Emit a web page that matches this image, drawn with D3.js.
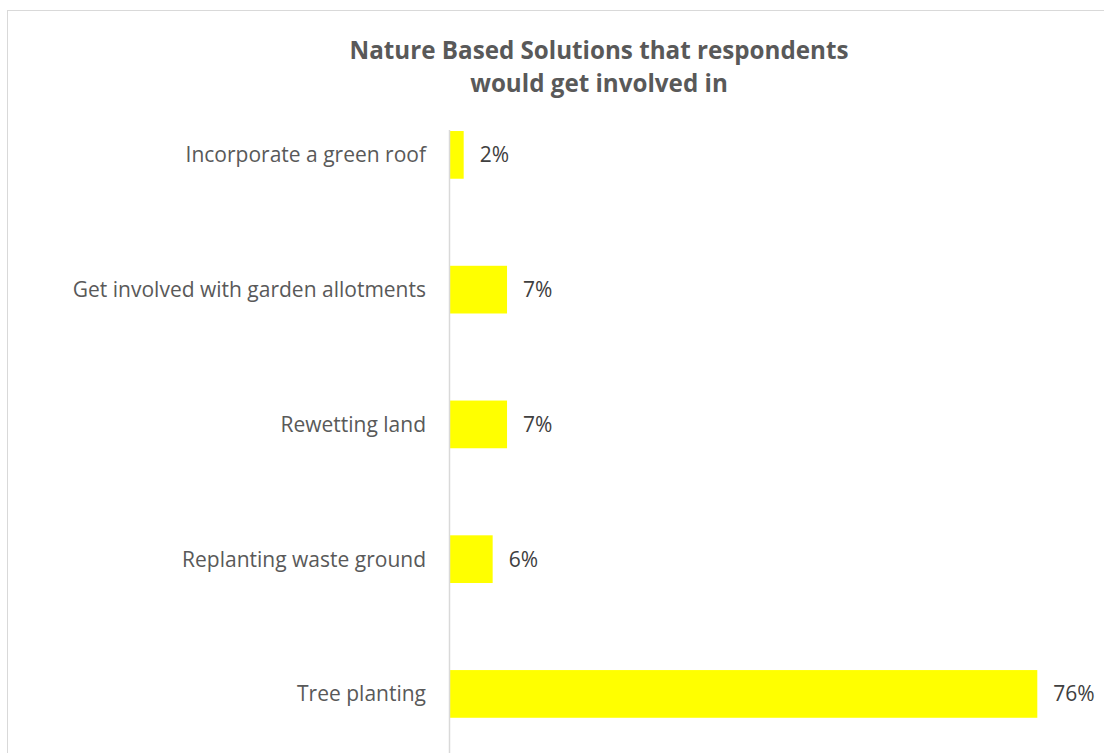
<!DOCTYPE html>
<html>
<head>
<meta charset="utf-8">
<script src="https://cdn.jsdelivr.net/npm/d3@7"></script>
<style>
  html, body { margin: 0; padding: 0; background: #fff; }
  svg { display: block; }
</style>
</head>
<body>
<svg id="chart" width="1104" height="753"></svg>
<script>
const titleLines = ["Nature Based Solutions that respondents", "would get involved in"];
const categories = [
  "Incorporate a green roof",
  "Get involved with garden allotments",
  "Rewetting land",
  "Replanting waste ground",
  "Tree planting"
];
const values = [1.77, 7.38, 7.38, 5.52, 76.0];
const valueLabels = ["2%", "7%", "7%", "6%", "76%"];

const svg = d3.select("#chart");
const font = "'Open Sans', sans-serif";

// chart border
svg.append("rect")
  .attr("x", 7.5).attr("y", 10.5)
  .attr("width", 1200).attr("height", 800)
  .attr("fill", "#fff").attr("stroke", "#d9d9d9").attr("stroke-width", 1);

// title
svg.append("g").selectAll("text").data(titleLines).join("text")
  .attr("x", 599)
  .attr("y", (d, i) => 59 + i * 33)
  .attr("text-anchor", "middle")
  .attr("font-family", font)
  .attr("font-weight", "bold")
  .attr("font-size", 24.2)
  .attr("fill", "#595959")
  .text(d => d);

const x = d3.scaleLinear().domain([0, 76]).range([450, 1037.3]);
const y = d3.scaleBand().domain(categories).range([87.5, 761.3])
  .paddingInner(0.646).paddingOuter(0.323);

// bars
svg.append("g").selectAll("rect").data(categories).join("rect")
  .attr("x", x(0))
  .attr("y", d => y(d))
  .attr("width", (d, i) => x(values[i]) - x(0))
  .attr("height", y.bandwidth())
  .attr("fill", "#ffff00");

// axis line
svg.append("line")
  .attr("x1", 449.5).attr("x2", 449.5)
  .attr("y1", 130).attr("y2", 760)
  .attr("stroke", "#d9d9d9").attr("stroke-width", 1.5);

// category labels
svg.append("g").selectAll("text").data(categories).join("text")
  .attr("x", 426)
  .attr("y", d => y(d) + y.bandwidth() / 2)
  .attr("dy", "0.36em")
  .attr("text-anchor", "end")
  .attr("font-family", font)
  .attr("font-size", 21)
  .attr("fill", "#595959")
  .text(d => d);

// value labels
svg.append("g").selectAll("text").data(categories).join("text")
  .attr("x", (d, i) => x(values[i]) + 16)
  .attr("y", d => y(d) + y.bandwidth() / 2)
  .attr("dy", "0.36em")
  .attr("font-family", font)
  .attr("font-size", 21)
  .attr("fill", "#404040")
  .text((d, i) => valueLabels[i]);
</script>
</body>
</html>
